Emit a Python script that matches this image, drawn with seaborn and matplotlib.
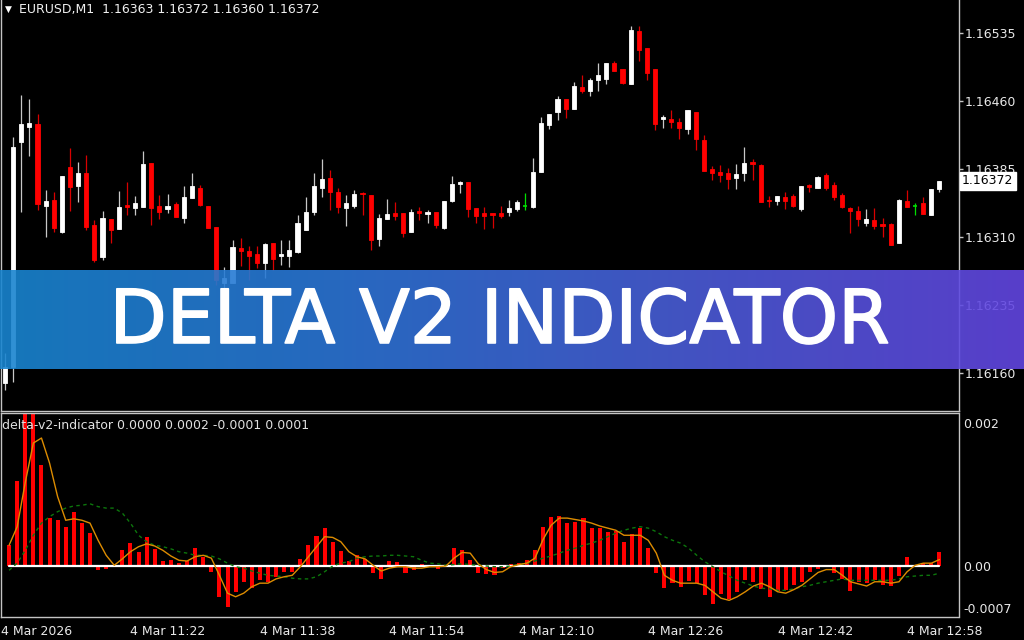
"""
Delta V2 indicator screenshot: EURUSD M1 candles on top,
delta-v2-indicator histogram with its fast and slow averages below,
and a gradient title banner across the middle.
"""

###
#Import libraries

import numpy as np
import pandas as pd
import seaborn as sns
import matplotlib
matplotlib.use('Agg')
import matplotlib.pyplot as plt
import matplotlib.patheffects as pe
from matplotlib.colors import LinearSegmentedColormap
from matplotlib.transforms import blended_transform_factory

###
#Data
#Prices are in points above 1.16000, indicator values in units of 0.0001

SYMBOL = 'EURUSD,M1'
INDICATOR = 'delta-v2-indicator'
START = '2026-03-04 11:07'

OPEN_PTS = [149, 167, 415, 431, 435, 344, 351, 316, 387, 366,
            381, 323, 288, 330, 319, 345, 342, 343, 392, 344,
            341, 346, 331, 353, 364, 344, 321, 259, 259, 298,
            295, 291, 281, 303, 289, 289, 293, 318, 338, 364,
            375, 360, 342, 344, 358, 356, 308, 330, 336, 336,
            316, 339, 335, 338, 320, 350, 368, 371, 342, 336,
            336, 336, 338, 341, 344, 343, 382, 434, 448, 462,
            451, 475, 471, 483, 484, 502, 495, 479, 537, 518,
            495, 440, 440, 437, 429, 448, 417, 385, 382, 381,
            375, 381, 393, 389, 351, 350, 354, 355, 341, 367,
            364, 378, 367, 356, 342, 339, 325, 329, 324, 324,
            303, 350, 344, 347, 334, 363]
HIGH_PTS = [182, 420, 467, 462, 446, 362, 360, 377, 408, 393,
            400, 329, 339, 330, 361, 371, 355, 405, 392, 356,
            357, 349, 366, 381, 367, 344, 321, 277, 307, 309,
            300, 300, 303, 303, 307, 307, 334, 354, 381, 396,
            384, 364, 356, 362, 360, 356, 335, 352, 349, 336,
            341, 343, 340, 338, 350, 377, 372, 371, 342, 343,
            336, 344, 351, 351, 359, 397, 442, 446, 466, 462,
            481, 489, 485, 502, 502, 504, 495, 543, 543, 518,
            495, 445, 450, 441, 450, 448, 422, 388, 389, 386,
            391, 409, 396, 391, 355, 355, 360, 357, 366, 368,
            377, 381, 371, 359, 343, 344, 341, 342, 331, 325,
            352, 362, 347, 354, 363, 372]
LOW_PTS = [141, 150, 338, 399, 340, 310, 316, 314, 339, 349,
           318, 282, 285, 303, 319, 334, 334, 343, 323, 330,
           336, 332, 325, 353, 344, 320, 257, 252, 259, 278,
           263, 276, 265, 274, 279, 277, 292, 318, 334, 354,
           340, 336, 322, 342, 334, 296, 300, 330, 329, 310,
           316, 329, 325, 320, 319, 349, 359, 332, 325, 319,
           320, 331, 333, 339, 340, 342, 382, 429, 439, 441,
           451, 469, 466, 471, 479, 493, 479, 479, 504, 483,
           428, 430, 430, 418, 424, 406, 383, 373, 371, 363,
           363, 372, 373, 349, 343, 345, 341, 343, 339, 360,
           364, 362, 351, 342, 314, 322, 322, 319, 310, 301,
           303, 343, 334, 335, 334, 360]
CLOSE_PTS = [167, 409, 435, 436, 346, 350, 320, 377, 365, 381,
             321, 285, 331, 318, 343, 343, 348, 391, 342, 338,
             344, 332, 354, 366, 345, 320, 263, 265, 299, 295,
             289, 281, 302, 286, 291, 296, 325, 338, 366, 374,
             360, 343, 348, 357, 357, 307, 331, 335, 333, 314,
             338, 336, 338, 323, 350, 368, 371, 341, 333, 333,
             334, 333, 342, 349, 344, 382, 436, 446, 462, 451,
             477, 471, 483, 489, 502, 493, 480, 538, 516, 491,
             435, 442, 437, 430, 450, 418, 383, 381, 378, 374,
             379, 392, 390, 349, 350, 355, 350, 344, 366, 365,
             376, 364, 354, 343, 339, 330, 330, 322, 322, 301,
             351, 343, 344, 335, 363, 372]

#Histogram buffer
DELTA = [2.9, 11.9, 21.3, 21.4, 14.1, 6.7, 6.4, 5.5, 7.5, 6.0,
         4.6, -0.6, -0.4, -0.1, 2.2, 3.2, 2.0, 4.1, 2.4, 0.7,
         0.8, 0.4, 0.7, 2.5, 1.3, -0.9, -4.3, -5.7, -3.6, -2.2,
         -3.1, -2.0, -2.2, -1.5, -0.8, -0.8, 1.0, 2.9, 4.2, 5.3,
         3.4, 2.1, 0.7, 1.5, 1.0, -1.0, -1.8, 0.7, 0.5, -1.0,
         -0.5, 0.3, -0.2, -0.4, 0.2, 2.5, 2.2, 0.8, -1.0, -1.1,
         -1.3, -0.3, 0.3, 0.4, 0.8, 2.3, 5.5, 6.9, 7.0, 6.0,
         6.2, 6.7, 5.3, 5.3, 4.8, 4.9, 3.4, 4.5, 5.3, 2.5,
         -1.0, -3.1, -2.4, -2.9, -2.1, -2.4, -4.1, -5.3, -3.9, -4.6,
         -3.7, -2.0, -2.3, -3.2, -4.4, -3.5, -3.3, -2.6, -2.2, -0.9,
         -0.4, -0.1, -1.0, -1.8, -3.5, -2.2, -2.4, -2.0, -2.7, -2.8,
         -1.4, 1.3, 0.1, 0.4, 0.4, 2.0]
#Fast (orange) average
FAST = [2.9, 5.5, 11.7, 17.2, 17.9, 14.4, 9.7, 6.4, 6.6, 6.4,
        6.0, 3.6, 1.5, 0.1, 1.0, 2.0, 2.7, 3.1, 2.8, 2.2,
        1.4, 0.8, 0.7, 1.3, 1.5, 1.1, -1.3, -3.8, -4.3, -3.8,
        -2.9, -2.4, -2.4, -1.8, -1.5, -1.3, -0.1, 1.3, 2.7, 4.1,
        4.0, 3.4, 2.0, 1.3, 1.0, 0.1, -0.7, -0.3, -0.1, -0.1,
        -0.3, -0.3, -0.1, -0.1, 0.0, 1.1, 1.9, 1.8, 0.3, -0.5,
        -0.9, -0.8, -0.1, 0.2, 0.4, 1.1, 3.7, 5.7, 6.7, 6.7,
        6.5, 6.3, 6.0, 5.6, 5.3, 5.0, 4.3, 4.3, 4.3, 3.6,
        1.8, -1.3, -2.0, -2.4, -2.4, -2.4, -2.7, -3.6, -4.5, -4.8,
        -4.3, -3.6, -2.8, -2.4, -2.9, -3.6, -3.8, -3.3, -2.7, -1.8,
        -0.9, -0.5, -0.5, -1.3, -2.2, -2.5, -2.8, -2.2, -2.2, -2.4,
        -2.2, -0.8, 0.1, 0.4, 0.4, 0.9]
#Slow (green dashed) average
SLOW = [-0.6, 0.4, 2.2, 4.3, 6.0, 6.9, 7.6, 8.1, 8.4, 8.5,
        8.7, 8.3, 8.1, 8.1, 7.4, 6.0, 4.3, 3.4, 2.9, 2.7,
        2.4, 2.0, 1.8, 1.5, 1.5, 1.4, 1.0, 0.4, -0.1, -0.3,
        -0.7, -1.0, -1.3, -1.4, -1.5, -1.7, -1.8, -1.8, -1.5, -0.8,
        0.0, 0.4, 0.6, 1.1, 1.3, 1.4, 1.4, 1.5, 1.5, 1.4,
        1.3, 0.8, 0.4, 0.3, 0.1, 0.2, 0.3, 0.2, 0.1, 0.0,
        -0.1, -0.1, 0.0, 0.2, 0.4, 0.7, 1.1, 1.4, 1.8, 2.2,
        2.5, 2.9, 3.2, 3.6, 4.1, 4.6, 5.0, 5.3, 5.5, 5.3,
        4.8, 4.1, 3.6, 3.2, 2.5, 1.5, 0.6, -0.1, -0.8, -1.4,
        -2.0, -2.4, -2.8, -3.1, -3.2, -3.4, -3.4, -3.2, -2.9, -2.7,
        -2.4, -2.2, -2.0, -1.8, -2.0, -2.0, -2.0, -2.0, -2.0, -2.0,
        -1.8, -1.5, -1.4, -1.3, -1.3, -1.0]

PRICE_TICKS = [1.16160, 1.16235, 1.16310, 1.16385, 1.16460, 1.16535]
IND_TICKS = [0.002, 0.0, -0.0007]
IND_TICK_LABELS = ['0.002', '0.00', '-0.0007']

###
#Style constants

FRAME = '#c4c4c4'
UP_BODY = '#ffffff'
UP_WICK = '#c8c8c8'
DOWN_BODY = '#ff0000'
DOWN_WICK = '#d80000'
DOJI = '#00e000'
FAST_COLOR = '#dd8c00'
SLOW_COLOR = '#0c760c'
BANNER = ['#1885d0', '#2c75d6', '#4a5dd8', '#6346e2']

W, H = 1024, 640
PX_PER_BAR = 8.125


def style_frame(ax):
    """Black panel with MT4 style grey frame."""
    ax.set_facecolor('black')
    ax.grid(False)
    for side in ax.spines.values():
        side.set_color(FRAME)
        side.set_linewidth(1)


def draw_candles(ax, x, o, h, l, c):
    """Candles: white up bars, red down bars, green doji."""
    up = c > o
    down = c < o
    doji = c == o
    ax.vlines(x[up], l[up], h[up], color=UP_WICK, lw=0.9, zorder=2)
    ax.vlines(x[down], l[down], h[down], color=DOWN_WICK, lw=0.9, zorder=2)
    ax.vlines(x[doji], l[doji], h[doji], color=DOJI, lw=0.9, zorder=2)
    ax.bar(x[up], (c - o)[up], bottom=o[up], width=0.52, color=UP_BODY,
           edgecolor=UP_BODY, lw=0.6, zorder=3)
    ax.bar(x[down], (o - c)[down], bottom=c[down], width=0.52, color=DOWN_BODY,
           edgecolor=DOWN_BODY, lw=0.6, zorder=3)
    ax.hlines(o[doji], x[doji] - 0.3, x[doji] + 0.3, color=DOJI, lw=1.2, zorder=3)


def main():
    """Build the whole picture and save it."""
    sns.set_style('dark', {'axes.facecolor': 'black', 'figure.facecolor': 'black',
                           'axes.edgecolor': FRAME, 'text.color': 'white',
                           'xtick.color': FRAME, 'ytick.color': FRAME,
                           'axes.grid': False})
    plt.rcParams['font.family'] = ['DejaVu Sans']

    n = len(CLOSE_PTS)
    x = np.arange(n)
    o = 1.16 + np.array(OPEN_PTS) * 1e-5
    h = 1.16 + np.array(HIGH_PTS) * 1e-5
    l = 1.16 + np.array(LOW_PTS) * 1e-5
    c = 1.16 + np.array(CLOSE_PTS) * 1e-5
    delta = np.array(DELTA) * 1e-4
    fast = np.array(FAST) * 1e-4
    slow = np.array(SLOW) * 1e-4
    zero = np.zeros(n)

    fig = plt.figure(figsize=(W / 100, H / 100), dpi=100, facecolor='black')

    #Panels (pixel layout of the terminal window)
    left, right = 1, 958.5
    ax_p = fig.add_axes([left / W, (H - 411) / H, (right - left) / W, 411 / H])
    ax_i = fig.add_axes([left / W, (H - 617) / H, (right - left) / W, (617 - 413) / H])
    xmin = -(5 - left) / PX_PER_BAR
    xmax = xmin + (right - left) / PX_PER_BAR
    for ax in (ax_p, ax_i):
        style_frame(ax)
        ax.set_xlim(xmin, xmax)
    ax_p.spines['top'].set_visible(False)

    #Price panel
    draw_candles(ax_p, x, o, h, l, c)
    ax_p.set_ylim(1.161181, 1.165714)
    ax_p.set_xticks([])
    ax_p.yaxis.tick_right()
    ax_p.set_yticks(PRICE_TICKS)
    ax_p.set_yticklabels([f'{v:.5f}' for v in PRICE_TICKS])
    ax_p.tick_params(axis='y', direction='out', length=3, width=1, pad=1.5,
                     colors=FRAME, labelcolor='#e8e8e8', labelsize=9)

    #Current price tag (drawn over the nearest scale label, as in the terminal)
    tag = blended_transform_factory(ax_p.transAxes, ax_p.transData)
    ax_p.annotate(f'{c[-1]:.5f}', xy=(1.0, c[-1]), xycoords=tag,
                  xytext=(2.6, 0), textcoords='offset points', ha='left', va='center',
                  fontsize=9, color='black', annotation_clip=False, zorder=6,
                  bbox=dict(boxstyle='square,pad=0.18', fc='white', ec='white'))

    #Top-left header
    fig.text(5 / W, 1 - 9 / H, '\u25bc', fontsize=6.5, color='white', va='center')
    fig.text(19 / W, 1 - 9 / H,
             f'{SYMBOL}  {o[-1]:.5f} {h[-1]:.5f} {l[-1]:.5f} {c[-1]:.5f}',
             fontsize=9, color='#f0f0f0', va='center')

    #Indicator panel
    ax_i.bar(x, delta, width=0.5, color='#ff0000', edgecolor='none', linewidth=0,
             zorder=2)
    sns.lineplot(x=x, y=zero, ax=ax_i, color='white', linewidth=1.6, zorder=3)
    sns.lineplot(x=x, y=slow, ax=ax_i, color=SLOW_COLOR, linewidth=1,
                 linestyle=(0, (2.5, 2.5)), zorder=4)
    sns.lineplot(x=x, y=fast, ax=ax_i, color=FAST_COLOR, linewidth=1, zorder=5)
    ax_i.set_ylim(-0.000713, 0.00214)
    ax_i.set_xlim(xmin, xmax)
    ax_i.set_ylabel('')
    ax_i.yaxis.tick_right()
    ax_i.set_yticks(IND_TICKS)
    ax_i.set_yticklabels(IND_TICK_LABELS)
    ax_i.tick_params(axis='y', length=0, pad=3.5, labelcolor='#e8e8e8', labelsize=9)
    ax_i.get_yticklabels()[-1].set_va('bottom')

    ax_i.text(0.001, 0.94,
              f'{INDICATOR} {zero[-1]:.4f} {delta[-1]:.4f} {slow[-1]:.4f} {fast[-1]:.4f}',
              transform=ax_i.transAxes, fontsize=9, color='#e0e0e0',
              va='center', ha='left', zorder=6)

    #Time axis every 16 bars, first tick carries the date
    start = pd.Timestamp(START)
    tick_pos = np.arange(-1, n, 16)
    labels = []
    for p in tick_pos:
        t = start + pd.Timedelta(minutes=int(p))
        labels.append(f'{t.day} {t:%b %Y}' if p < 0 else f'{t.day} {t:%b %H:%M}')
    ax_i.set_xticks(tick_pos)
    ax_i.set_xticklabels(labels)
    ax_i.tick_params(axis='x', direction='out', length=3, width=1, pad=3,
                     colors=FRAME, labelcolor='#e8e8e8', labelsize=9)
    for lab in ax_i.get_xticklabels():
        lab.set_ha('left')

    #Title banner
    ax_b = fig.add_axes([0, (H - 369) / H, 1, 99 / H], zorder=10)
    cmap = LinearSegmentedColormap.from_list('banner', BANNER)
    ax_b.imshow(np.linspace(0, 1, 512)[None, :], cmap=cmap, aspect='auto',
                alpha=0.9, extent=(0, 1, 0, 1))
    ax_b.set_xlim(0, 1)
    ax_b.set_ylim(0, 1)
    ax_b.axis('off')
    ax_b.text(499 / W, 0.47, 'DELTA V2 INDICATOR', transform=ax_b.transAxes,
              ha='center', va='center', fontsize=53.5, color='white',
              path_effects=[pe.withStroke(linewidth=1.2, foreground='white')])

    fig.savefig('out.png', dpi=100, facecolor='black')
    return 0


if __name__ == '__main__':
    main()
